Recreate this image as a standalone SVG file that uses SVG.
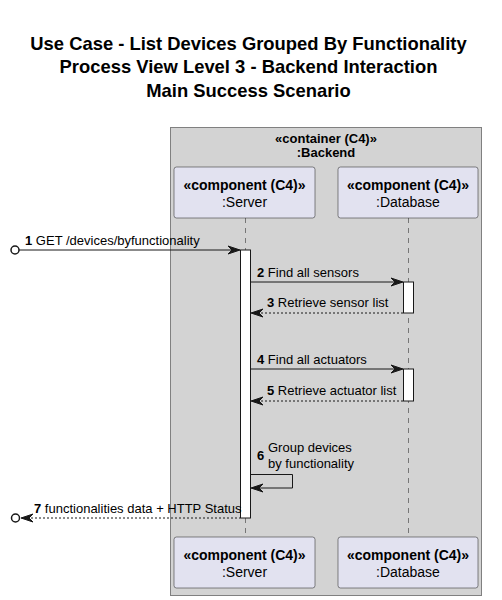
<svg xmlns="http://www.w3.org/2000/svg" width="502" height="600" viewBox="0 0 502 600">
<style>
text{font-family:"Liberation Sans",Arial,sans-serif;fill:#000}
.title{font-size:18.4px;font-weight:bold;text-anchor:middle}
.box{fill:#E2E2F0;stroke:#181818;stroke-width:0.5}
.st{font-size:14px;font-weight:bold;text-anchor:middle}
.nm{font-size:14px;text-anchor:middle}
.msg{font-size:13px}
.num{font-weight:bold}
.life{stroke:#181818;stroke-width:0.5;stroke-dasharray:5,5}
.act{fill:#FFFFFF;stroke:#181818;stroke-width:1}
.line{stroke:#181818;stroke-width:1;fill:none}
.dash{stroke:#181818;stroke-width:1;stroke-dasharray:2,2;fill:none}
.head{fill:#181818;stroke:#181818;stroke-width:1}
</style>
<rect width="502" height="600" fill="#FFFFFF"/>
<g id="title">
<text class="title" x="248.5" y="50">Use Case - List Devices Grouped By Functionality</text>
<text class="title" x="248.5" y="73">Process View Level 3 - Backend Interaction</text>
<text class="title" x="248.5" y="97">Main Success Scenario</text>
</g>
<g id="backend">
<rect x="170.5" y="127.5" width="311" height="468" fill="#D3D3D3" stroke="#808080" stroke-width="1"/>
<text x="326" y="143" style="font-size:13px;font-weight:bold;text-anchor:middle">«container (C4)»</text>
<text x="326" y="157" style="font-size:13px;font-weight:bold;text-anchor:middle">:Backend</text>
</g>
<g id="lifelines">
<line class="life" x1="245.5" y1="218" x2="245.5" y2="537"/>
<line class="life" x1="408.5" y1="218" x2="408.5" y2="537"/>
</g>
<g id="server-top">
<rect class="box" x="174" y="167" width="141" height="51" rx="2.5"/>
<text class="st" x="244.5" y="190">«component (C4)»</text>
<text class="nm" x="244.5" y="207">:Server</text>
</g>
<g id="database-top">
<rect class="box" x="338" y="167" width="140" height="51" rx="2.5"/>
<text class="st" x="408" y="190">«component (C4)»</text>
<text class="nm" x="408" y="207">:Database</text>
</g>
<g id="server-bottom">
<rect class="box" x="174" y="537" width="141" height="51" rx="2.5"/>
<text class="st" x="244.5" y="560">«component (C4)»</text>
<text class="nm" x="244.5" y="577">:Server</text>
</g>
<g id="database-bottom">
<rect class="box" x="338" y="537" width="140" height="51" rx="2.5"/>
<text class="st" x="408" y="560">«component (C4)»</text>
<text class="nm" x="408" y="577">:Database</text>
</g>
<g id="activations">
<rect class="act" x="240.5" y="250" width="10" height="268"/>
<rect class="act" x="403.5" y="282" width="10" height="31"/>
<rect class="act" x="403.5" y="369" width="10" height="32"/>
</g>
<g id="connectors">
<circle cx="15" cy="250" r="4" fill="none" stroke="#181818" stroke-width="1.5"/>
<line class="line" x1="19" y1="250" x2="239" y2="250"/>
<polygon class="head" points="228,246 240,250 228,254 232,250"/>
<text class="msg" x="25" y="245"><tspan class="num">1</tspan> GET /devices/byfunctionality</text>

<line class="line" x1="251" y1="282" x2="402" y2="282"/>
<polygon class="head" points="391,278 403,282 391,286 395,282"/>
<text class="msg" x="257" y="277"><tspan class="num">2</tspan> Find all sensors</text>

<line class="dash" x1="253" y1="313" x2="403" y2="313"/>
<polygon class="head" points="263,309 251,313 263,317 259,313"/>
<text class="msg" x="267" y="307"><tspan class="num">3</tspan> Retrieve sensor list</text>

<line class="line" x1="251" y1="369" x2="402" y2="369"/>
<polygon class="head" points="391,365 403,369 391,373 395,369"/>
<text class="msg" x="257" y="364"><tspan class="num">4</tspan> Find all actuators</text>

<line class="dash" x1="253" y1="401" x2="403" y2="401"/>
<polygon class="head" points="263,397 251,401 263,405 259,401"/>
<text class="msg" x="267" y="395"><tspan class="num">5</tspan> Retrieve actuator list</text>

<polyline class="line" points="251,474.5 292.5,474.5 292.5,488 252,488"/>
<polygon class="head" points="263,484 251,488 263,492 259,488"/>
<text class="msg" x="257" y="460"><tspan class="num">6</tspan></text>
<text class="msg" x="268" y="452">Group devices</text>
<text class="msg" x="268" y="468">by functionality</text>

<line class="dash" x1="23" y1="518" x2="240" y2="518"/>
<polygon class="head" points="33,514 21,518 33,522 29,518"/>
<circle cx="15.5" cy="518" r="4" fill="none" stroke="#181818" stroke-width="1.5"/>
<text class="msg" x="34" y="513"><tspan class="num">7</tspan> functionalities data + HTTP Status</text>
</g>
</svg>
